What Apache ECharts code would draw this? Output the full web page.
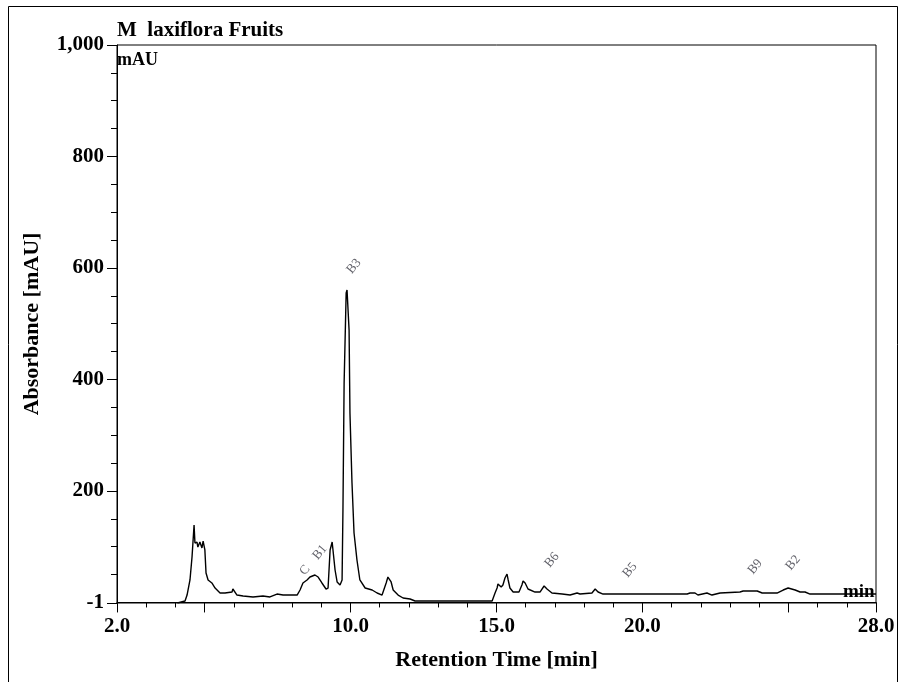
<!DOCTYPE html>
<html><head><meta charset="utf-8">
<script src="https://cdn.jsdelivr.net/npm/echarts@6/dist/echarts.min.js"></script>
<style>html,body{margin:0;padding:0;background:#fff}#c{width:900px;height:682px}</style>
</head><body><div id="c"></div>
<script>
const retentionTime = [4.07,4.33,4.40,4.50,4.57,4.64,4.67,4.74,4.77,4.84,4.91,4.95,5.01,5.05,5.12,5.25,5.36,5.53,5.70,5.94,5.97,6.11,6.32,6.66,7.00,7.24,7.48,7.69,8.17,
  8.27,8.37,8.51,8.61,8.78,8.89,9.02,9.16,9.23,9.30,9.37,9.40,9.47,9.54,9.64,9.71,9.74,9.78,9.85,9.88,9.95,9.98,10.05,10.12,10.22,10.32,10.50,10.74,10.91,11.08,11.22,11.28,11.39,11.46,11.63,11.80,12.04,12.21,13.07,13.92,14.85,
  14.95,15.02,15.05,15.16,15.22,15.29,15.36,15.40,15.46,15.57,15.77,15.87,15.91,15.98,16.08,16.32,16.49,16.63,16.73,16.90,17.25,17.52,17.76,17.86,18.27,18.38,18.48,18.65,19.57,20.60,21.53,21.63,21.80,21.90,22.21,22.38,22.66,23.34,23.45,23.93,24.10,24.61,24.82,24.99,25.23,25.40,25.57,25.74,26.77,28.00];
const absorbance = [-1,2.6,13.3,40.3,81.5,138.9,106.6,108.4,99.4,108.4,97.7,110.2,94.1,52.8,40.3,34.9,25.9,16.9,16.9,18.7,24.1,13.3,11.6,9.8,11.6,9.8,15.1,13.3,13.3,
  22.3,34.9,40.3,45.6,49.2,45.6,34.9,24.1,25.9,94.1,108.4,106.6,58.2,36.7,31.3,40.3,165.8,393.6,555.0,560.4,488.7,339.8,214.2,124.6,76.1,40.3,25.9,22.3,16.9,13.3,34.9,45.6,36.7,22.3,13.3,8.0,6.2,2.6,2.6,2.6,2.6,
  16.9,25.9,33.1,27.7,31.3,43.8,51.0,40.3,25.9,18.7,18.7,31.3,38.5,34.9,24.1,18.7,18.7,29.5,24.1,16.9,15.1,13.3,16.9,15.1,16.9,24.1,18.7,15.1,15.1,15.1,15.1,16.9,16.9,13.3,16.9,13.3,16.9,18.7,20.5,20.5,16.9,16.9,22.3,25.9,22.3,18.7,18.7,15.1,15.1,15.1];
const peakNames = ['C','B1','B3','B6','B5','B9','B2'];
const peakTimes = [8.44, 8.95, 10.12, 16.90, 19.57, 23.86, 25.16];
const peakLabelY = [58, 90, 603, 76, 58, 64, 71];
const xLabelValues = [2, 10, 15, 20, 28];
const xMinorTicks = [3,4,6,7,8,9,11,12,13,14,16,17,18,19,21,22,23,24,26,27];
const xMajorTicks = [2,5,10,15,20,25,28];
const yLabelValues = [-1,200,400,600,800,1000];
const yMinorTicks = [50,100,150,250,300,350,450,500,550,650,700,750,850,900,950];

const FONT = "'Liberation Serif','Times New Roman',serif";
const chart = echarts.init(document.getElementById('c'), null, {renderer:'canvas'});
const lineData = retentionTime.map((t,i)=>[t, absorbance[i]]);
const peakData = peakTimes.map((t,i)=>({value:[t, peakLabelY[i]], name: peakNames[i]}));
const boldText = (s)=>({color:'#000', fontFamily:FONT, fontWeight:'bold', fontSize:s});

chart.setOption({
  animation:false,
  backgroundColor:'#fff',
  title:{text:'M  laxiflora Fruits', left:117, top:20, padding:0, textStyle:boldText(21)},
  graphic:[
    {type:'rect', shape:{x:8.5,y:6.5,width:889,height:700}, style:{fill:'none', stroke:'#000', lineWidth:1}, silent:true},
    {type:'text', left:117, top:51, style:{text:'mAU', fill:'#000', font:'bold 18px '+FONT}},
    {type:'text', left:843, top:583, style:{text:'min', fill:'#000', font:'bold 19px '+FONT}}
  ],
  grid:{left:117, top:45, right:24, bottom:79, show:true, borderColor:'#000', borderWidth:1},
  xAxis:[
    {type:'value', min:2, max:28, position:'bottom',
      name:'Retention Time [min]', nameLocation:'middle', nameGap:46, nameTextStyle:boldText(22),
      axisLine:{show:true, lineStyle:{color:'#000', width:1}},
      axisTick:{show:true, customValues:xMinorTicks, length:5, lineStyle:{color:'#000'}},
      axisLabel:{show:true, customValues:xLabelValues, formatter:v=>v.toFixed(1), margin:13, color:'#000', fontFamily:FONT, fontWeight:'bold', fontSize:21},
      splitLine:{show:false}},
    {type:'value', min:2, max:28, position:'bottom',
      axisLine:{show:false},
      axisTick:{show:true, customValues:xMajorTicks, length:10, lineStyle:{color:'#000'}},
      axisLabel:{show:false}, splitLine:{show:false}}
  ],
  yAxis:[
    {type:'value', min:-1, max:1000, position:'left',
      name:'Absorbance [mAU]', nameLocation:'middle', nameGap:74, nameTextStyle:boldText(22),
      axisLine:{show:true, lineStyle:{color:'#000', width:1}},
      axisTick:{show:true, customValues:yLabelValues, length:10, lineStyle:{color:'#000'}},
      axisLabel:{show:true, customValues:yLabelValues, formatter:v=> v===1000?'1,000':String(v), margin:13, color:'#000', fontFamily:FONT, fontWeight:'bold', fontSize:21},
      splitLine:{show:false}},
    {type:'value', min:-1, max:1000, position:'left',
      axisLine:{show:false},
      axisTick:{show:true, customValues:yMinorTicks, length:6, lineStyle:{color:'#000'}},
      axisLabel:{show:false}, splitLine:{show:false}}
  ],
  series:[
    {type:'line', xAxisIndex:0, yAxisIndex:0, data:lineData, showSymbol:false, symbol:'none',
      lineStyle:{color:'#000', width:1.4}, silent:true},
    {type:'scatter', xAxisIndex:0, yAxisIndex:0, data:peakData, symbolSize:0, silent:true,
      label:{show:true, position:'inside', rotate:50, formatter:p=>p.name, color:'#3a3a44', fontFamily:FONT, fontSize:13}}
  ]
});
</script></body></html>
